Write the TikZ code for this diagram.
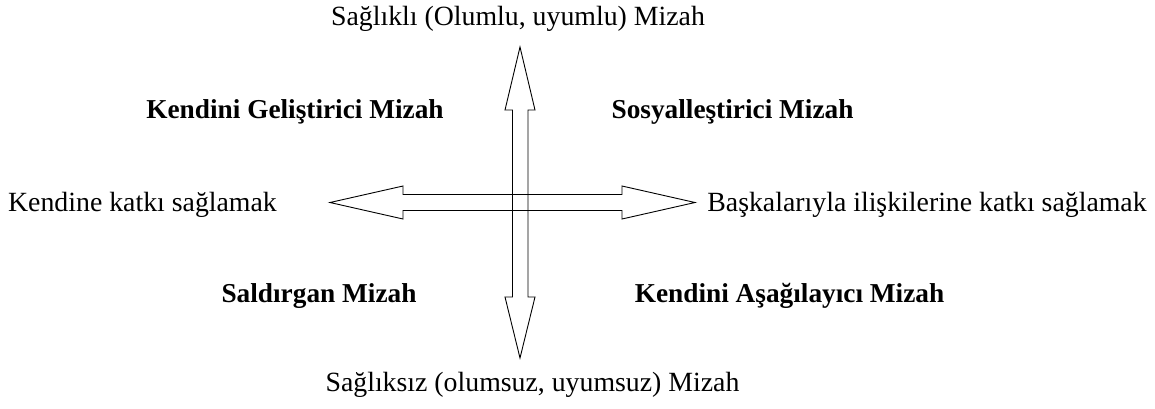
\documentclass[tikz,border=0pt]{standalone}
\usepackage{fontspec}
\setmainfont{Liberation Serif}
\begin{document}
\begin{tikzpicture}[x=1pt,y=-1pt,
  lbl/.style={inner sep=0pt, font=\fontsize{27.8}{32}\selectfont},
  blbl/.style={inner sep=0pt, font=\fontsize{27.3}{32}\selectfont\bfseries},
  blockarrow/.style={draw=black, line width=0.9pt, line join=miter}]
\useasboundingbox (0,0) rectangle (1155,408);
% vertical double arrow
\draw[blockarrow] (520,47) -- (535,110) -- (528,110) -- (528,297) -- (535,297) -- (520,358)
  -- (505,297) -- (512.5,297) -- (512.5,110) -- (505,110) -- cycle;
% horizontal double arrow
\draw[blockarrow] (330,202.5) -- (403,186) -- (403,194.5) -- (622,194.5) -- (622,186) -- (695,202.5)
  -- (622,219) -- (622,210.5) -- (403,210.5) -- (403,219) -- cycle;
\node[lbl] (top) at (518,19) {Sağlıklı (Olumlu, uyumlu) Mizah};
\node[lbl] (bot) at (532.5,385) {Sağlıksız (olumsuz, uyumsuz) Mizah};
\node[lbl] (left) at (142.5,205) {Kendine katkı sağlamak};
\node[lbl] (right) at (927,205) {Başkalarıyla ilişkilerine katkı sağlamak};
\node[blbl] (q1) at (295,112) {Kendini Geliştirici Mizah};
\node[blbl] (q2) at (732.5,112) {Sosyalleştirici Mizah};
\node[blbl] (q3) at (319,296) {Saldırgan Mizah};
\node[blbl] (q4) at (789.5,296) {Kendini Aşağılayıcı Mizah};
\end{tikzpicture}
\end{document}
